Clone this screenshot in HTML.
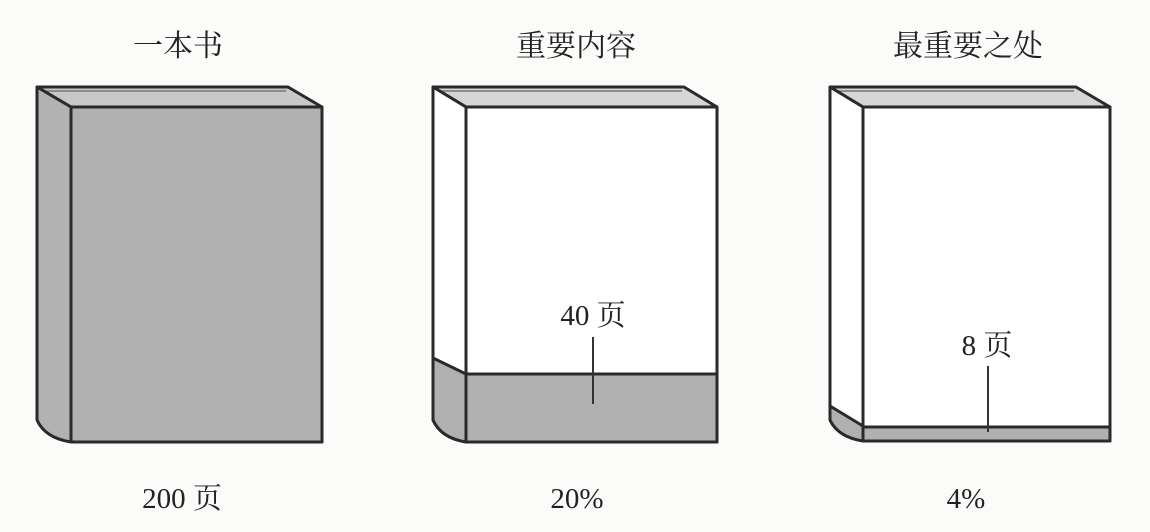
<!DOCTYPE html>
<html><head><meta charset="utf-8"><style>
html,body{margin:0;padding:0;background:#fbfbfa;}
svg{display:block}
text{font-family:"Liberation Serif","Noto Serif CJK SC",serif;fill:#222;}
</style></head><body>
<svg width="1150" height="532" viewBox="0 0 1150 532">
<g stroke="#2a2a2a" stroke-width="3" stroke-linejoin="round">
<!-- Book 1 -->
<path d="M37,87 L288,87 L322,107 L71,107 Z" fill="#c8c8c8"/>
<path d="M42,91 L286,91" stroke="#777" stroke-width="1.5" fill="none"/>
<path d="M37,87 L71,107 L71,442 Q45,438 37,420 Z" fill="#b2b2b2"/>
<rect x="71" y="107" width="251" height="335" fill="#b0b0b0"/>
<!-- Book 2 -->
<path d="M433,87 L684,87 L717,107 L466,107 Z" fill="#d6d6d6"/>
<path d="M438,91 L682,91" stroke="#777" stroke-width="1.5" fill="none"/>
<path d="M433,87 L466,107 L466,442 Q441,438 433,420 Z" fill="#fff"/>
<path d="M433,358 L466,374 L466,442 Q441,438 433,420 Z" fill="#b0b0b0"/>
<rect x="466" y="107" width="251" height="335" fill="#fff"/>
<rect x="466" y="374" width="251" height="68" fill="#b0b0b0"/>
<!-- Book 3 -->
<path d="M830,87 L1076,87 L1110,107 L863,107 Z" fill="#d6d6d6"/>
<path d="M835,91 L1074,91" stroke="#777" stroke-width="1.5" fill="none"/>
<path d="M830,87 L863,107 L863,441 Q838,437 830,420 Z" fill="#fff"/>
<path d="M830,406 L863,426 L863,441 Q838,437 830,420 Z" fill="#b0b0b0"/>
<rect x="863" y="107" width="247" height="334" fill="#fff"/>
<rect x="863" y="427" width="247" height="14" fill="#b0b0b0"/>
</g>
<line x1="593" y1="337" x2="593" y2="404" stroke="#333" stroke-width="2"/>
<line x1="988" y1="366" x2="988" y2="432" stroke="#333" stroke-width="2"/>
<text x="593" y="325" font-size="29" text-anchor="middle">40 页</text>
<text x="987" y="355" font-size="29" text-anchor="middle">8 页</text>
<text x="178" y="56" font-size="30" text-anchor="middle">一本书</text>
<text x="576" y="56" font-size="30" text-anchor="middle">重要内容</text>
<text x="968" y="56" font-size="30" text-anchor="middle">最重要之处</text>
<text x="182" y="508" font-size="29" text-anchor="middle">200 页</text>
<text x="577" y="508" font-size="29" text-anchor="middle">20%</text>
<text x="966" y="508" font-size="29" text-anchor="middle">4%</text>
</svg>
</body></html>
